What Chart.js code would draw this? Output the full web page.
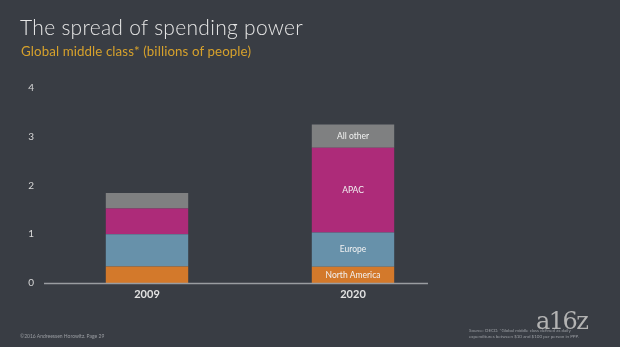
<!DOCTYPE html>
<html>
<head>
<meta charset="utf-8">
<script src="https://cdn.jsdelivr.net/npm/chart.js@4"></script>
<style>
  html, body { margin:0; padding:0; width:620px; height:347px; background:#393d44; overflow:hidden; }
  #wrap { position:relative; width:620px; height:347px; }
  canvas { position:absolute; left:0; top:0; }
  .t { position:absolute; font-family: Lato, "Open Sans", sans-serif; white-space:nowrap; }
  #title { left:20px; top:14px; font-size:21px; color:#e6e6e6; font-weight:300; letter-spacing:0.3px; }
  #sub { left:21px; top:43px; font-size:13.3px; color:#d6a12c; letter-spacing:0.1px; }
  #foot { left:20px; top:333px; font-size:5px; color:#9a9da2; }
  #src { left:469px; top:328px; font-size:4.5px; color:#9a9da2; line-height:6px; }
  #logo { left:536px; top:307px; font-family:"DejaVu Serif", "Liberation Serif", serif; font-size:24px; color:#b3b3b3; letter-spacing:-1.5px; }
</style>
</head>
<body>
<div id="wrap">
  <canvas id="c" width="620" height="347"></canvas>
  <div class="t" id="title">The spread of spending power</div>
  <div class="t" id="sub">Global middle class* (billions of people)</div>
  <div class="t" id="foot">©2016 Andreessen Horowitz. Page 29</div>
  <div class="t" id="logo">a16z</div>
  <div class="t" id="src">Source: OECD. *Global middle class defined as daily<br>expenditures between $10 and $100 per person in PPP.</div>
</div>
<script>
const categories = ["2009", "2020"];
const northAmerica = [0.338, 0.333];
const europe = [0.664, 0.703];
const apac = [0.525, 1.740];
const allOther = [0.318, 0.473];
const seriesNames = ["North America", "Europe", "APAC", "All other"];
const yTicks = [0, 1, 2, 3, 4];
const labelledCategory = 1;

const colors = ["#d3792b", "#6791aa", "#ad2b79", "#7f8081"];
const seriesValues = [northAmerica, europe, apac, allOther];

const segLabels = {
  id: 'segLabels',
  afterDatasetsDraw(chart) {
    const ctx = chart.ctx;
    ctx.save();
    ctx.fillStyle = '#f2f2f2';
    ctx.font = '8.5px Lato, "Open Sans", sans-serif';
    ctx.textAlign = 'center';
    ctx.textBaseline = 'middle';
    chart.data.datasets.forEach((ds, i) => {
      const el = chart.getDatasetMeta(i).data[labelledCategory];
      if (!el) return;
      ctx.fillText(ds.label, el.x, (el.y + el.base) / 2);
    });
    ctx.restore();
  }
};

const baseLine = {
  id: 'baseLine',
  afterDatasetsDraw(chart) {
    const { ctx, chartArea, scales } = chart;
    const y = scales.y.getPixelForValue(0);
    ctx.save();
    ctx.strokeStyle = '#9a9da1';
    ctx.lineWidth = 1.5;
    ctx.beginPath();
    ctx.moveTo(chartArea.left, y + 0.5);
    ctx.lineTo(chartArea.left + (chartArea.right - chartArea.left) * 0.932, y + 0.5);
    ctx.stroke();
    ctx.restore();
  }
};

new Chart(document.getElementById('c'), {
  type: 'bar',
  data: {
    labels: categories,
    datasets: seriesValues.map((vals, i) => ({
      label: seriesNames[i],
      data: vals,
      backgroundColor: colors[i],
      borderWidth: 0,
      barPercentage: 0.4,
      categoryPercentage: 1.0
    }))
  },
  options: {
    responsive: false,
    animation: false,
    devicePixelRatio: 1,
    layout: { padding: { left: 28, right: 164, top: 88, bottom: 44 } },
    plugins: { legend: { display: false }, tooltip: { enabled: false } },
    scales: {
      x: {
        stacked: true,
        grid: { display: false, drawTicks: false },
        border: { display: false },
        ticks: { color: '#e2e2e2', font: { family: 'Lato, "Open Sans", sans-serif', size: 11, weight: 'bold' }, padding: 5 },
        afterFit(s) { s.height = 20; }
      },
      y: {
        stacked: true,
        min: 0, max: 4,
        afterBuildTicks(s) { s.ticks = yTicks.map(v => ({ value: v })); },
        grid: { display: false, drawTicks: false },
        border: { display: false },
        ticks: { color: '#d8d8d8', font: { family: 'Lato, "Open Sans", sans-serif', size: 10 }, padding: 10 },
        afterFit(s) { s.width = 16; }
      }
    }
  },
  plugins: [segLabels, baseLine]
});
</script>
</body>
</html>
